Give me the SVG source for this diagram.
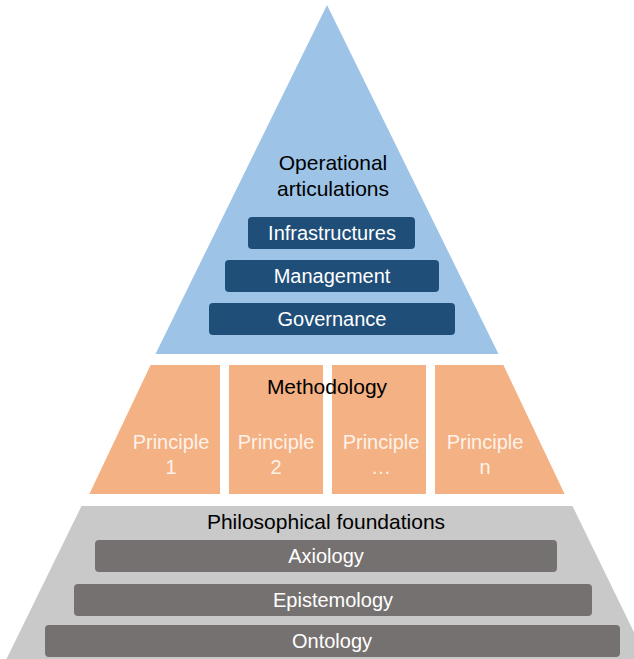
<svg xmlns="http://www.w3.org/2000/svg" width="634" height="659" viewBox="0 0 634 659">
<style>
text{font-family:"Liberation Sans",Arial,sans-serif;text-anchor:middle}
.hd{font-size:21px;fill:#000}
.bt{font-size:20px;fill:#fff}
.pr{font-size:20px;fill:#fdf2ea}
.blue{fill:#9dc3e6}
.navy{fill:#1f4e79}
.peach{fill:#f4b183}
.lgray{fill:#c9c9c9}
.dgray{fill:#767171}
</style>
<rect width="634" height="659" fill="#fff"/>
<g id="operational">
<polygon class="blue" points="327,5 498.5,354 155.5,354"/>
<text class="hd" x="333" y="170">Operational</text>
<text class="hd" x="333" y="196">articulations</text>
</g>
<g id="infrastructures">
<rect class="navy" x="248" y="217" width="167" height="32" rx="4"/>
<text class="bt" x="332" y="240">Infrastructures</text>
</g>
<g id="management">
<rect class="navy" x="225" y="260" width="214" height="32" rx="4"/>
<text class="bt" x="332" y="283">Management</text>
</g>
<g id="governance">
<rect class="navy" x="209" y="303" width="246" height="32" rx="4"/>
<text class="bt" x="332" y="326">Governance</text>
</g>
<g id="methodology">
<polygon class="peach" points="150.6,365 220,365 220,494 89.4,494"/>
<rect class="peach" x="229" y="365" width="94" height="129"/>
<rect class="peach" x="332" y="365" width="94" height="129"/>
<polygon class="peach" points="435,365 503.4,365 564.6,494 435,494"/>
<text class="hd" x="327" y="394">Methodology</text>
</g>
<g id="principle1">
<text class="pr" x="171" y="449">Principle</text>
<text class="pr" x="171" y="474">1</text>
</g>
<g id="principle2">
<text class="pr" x="276" y="449">Principle</text>
<text class="pr" x="276" y="474">2</text>
</g>
<g id="principle3">
<text class="pr" x="381" y="449">Principle</text>
<text class="pr" x="381" y="474">…</text>
</g>
<g id="principlen">
<text class="pr" x="485" y="449">Principle</text>
<text class="pr" x="485" y="474">n</text>
</g>
<g id="foundations">
<polygon class="lgray" points="81.5,506 572.5,506 647,659 6.5,659"/>
<text class="hd" x="326" y="529">Philosophical foundations</text>
</g>
<g id="axiology">
<rect class="dgray" x="95" y="540" width="462" height="32" rx="4"/>
<text class="bt" x="326" y="563">Axiology</text>
</g>
<g id="epistemology">
<rect class="dgray" x="74" y="584" width="518" height="32" rx="4"/>
<text class="bt" x="333" y="607">Epistemology</text>
</g>
<g id="ontology">
<rect class="dgray" x="45" y="625" width="575" height="32" rx="4"/>
<text class="bt" x="332" y="648">Ontology</text>
</g>
<g id="connectors"/>
</svg>
